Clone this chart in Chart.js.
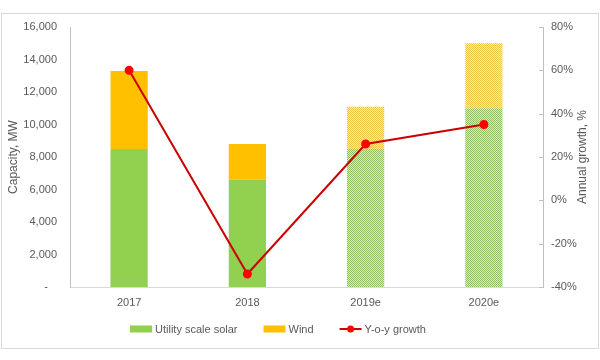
<!DOCTYPE html>
<html>
<head>
<meta charset="utf-8">
<script src="https://cdn.jsdelivr.net/npm/chart.js@4.4.1/dist/chart.umd.min.js"></script>
<style>
  html, body { margin: 0; padding: 0; background: #fff; }
  #wrap { width: 600px; height: 360px; }
</style>
</head>
<body>
<div id="wrap"><canvas id="chart" width="600" height="360"></canvas></div>
<script>
// ---- data ----
const categories = ['2017', '2018', '2019e', '2020e'];
const solarMW = [8500, 6600, 8500, 11000];
const windMW = [4800, 2200, 2600, 4000];
const growthPct = [60, -34, 26, 35];
const isForecast = [false, false, true, true];

const capacityTicks = [0, 2000, 4000, 6000, 8000, 10000, 12000, 14000, 16000];
const growthTicks = [-40, -20, 0, 20, 40, 60, 80];

const textColor = '#595959';
const fontFamily = "'Liberation Sans', Arial, sans-serif";

// checkered fill for the estimate years
function checker(dark, light) {
    const c = document.createElement('canvas');
    c.width = c.height = 2;
    const g = c.getContext('2d');
    g.fillStyle = light;
    g.fillRect(0, 0, 2, 2);
    g.fillStyle = dark;
    g.fillRect(0, 0, 1, 1);
    g.fillRect(1, 1, 1, 1);
    return g.createPattern(c, 'repeat');
}

const solarFill = isForecast.map(f => f ? checker('#8fbc62', '#dcebcb') : '#92D050');
const windFill = isForecast.map(f => f ? checker('#ecc545', '#fcedb2') : '#FFC000');

// frame, right axis title, inward tick marks and legend
const decorations = {
    id: 'decorations',
    beforeDraw(chart) {
        const ctx = chart.ctx;
        ctx.save();
        ctx.strokeStyle = '#d9d9d9';
        ctx.lineWidth = 1;
        ctx.strokeRect(1.5, 13.5, 597, 335);
        ctx.restore();
    },
    afterDraw(chart) {
        const ctx = chart.ctx;
        const area = chart.chartArea;
        const y1 = chart.scales.y1;
        ctx.save();

        // small tick marks pointing into the plot
        ctx.strokeStyle = '#bfbfbf';
        ctx.lineWidth = 1;
        growthTicks.forEach(v => {
            const y = Math.round(y1.getPixelForValue(v)) + 0.5;
            ctx.beginPath();
            ctx.moveTo(area.right - 4, y);
            ctx.lineTo(area.right, y);
            ctx.stroke();
        });

        // right axis title, reading bottom to top like Excel
        ctx.fillStyle = textColor;
        ctx.font = '12px ' + fontFamily;
        ctx.textAlign = 'center';
        ctx.textBaseline = 'middle';
        ctx.translate(583, (area.top + area.bottom) / 2);
        ctx.rotate(-Math.PI / 2);
        ctx.fillText('Annual growth, %', 0, 0);
        ctx.restore();

        // legend
        ctx.save();
        ctx.font = '11px ' + fontFamily;
        ctx.textBaseline = 'middle';
        ctx.fillStyle = textColor;
        const ds = chart.data.datasets;
        const items = [ds[1], ds[2], ds[0]];
        const boxW = 22, gap = 26, textOff = 3;
        let x = 130;
        const y = 329;
        items.forEach(d => {
            if (d.type === 'line') {
                ctx.strokeStyle = d.borderColor;
                ctx.lineWidth = 2;
                ctx.beginPath();
                ctx.moveTo(x, y);
                ctx.lineTo(x + boxW, y);
                ctx.stroke();
                ctx.fillStyle = d.pointBackgroundColor;
                ctx.beginPath();
                ctx.arc(x + boxW / 2, y, 3.5, 0, Math.PI * 2);
                ctx.fill();
            } else {
                ctx.fillStyle = d.legendColor;
                ctx.fillRect(x, y - 3.5, boxW, 7);
            }
            x += boxW + textOff;
            ctx.fillStyle = textColor;
            ctx.fillText(d.label, x, y + 0.5);
            x += ctx.measureText(d.label).width + gap;
        });
        ctx.restore();
    }
};

const ctx = document.getElementById('chart').getContext('2d');

new Chart(ctx, {
    type: 'bar',
    data: {
        labels: categories,
        datasets: [
            {
                type: 'line',
                label: 'Y-o-y growth',
                data: growthPct,
                yAxisID: 'y1',
                borderColor: '#CC0000',
                borderWidth: 2,
                pointBackgroundColor: '#FF0000',
                pointBorderColor: '#FF0000',
                pointRadius: 3.5,
                tension: 0,
                order: 0
            },
            {
                label: 'Utility scale solar',
                data: solarMW,
                backgroundColor: solarFill,
                legendColor: '#92D050',
                yAxisID: 'y',
                stack: 'cap',
                order: 1
            },
            {
                label: 'Wind',
                data: windMW,
                backgroundColor: windFill,
                legendColor: '#FFC000',
                yAxisID: 'y',
                stack: 'cap',
                order: 1
            }
        ]
    },
    options: {
        responsive: false,
        animation: false,
        barPercentage: 0.315,
        categoryPercentage: 1,
        layout: { padding: { top: 27, bottom: 0, left: 0, right: 0 } },
        plugins: {
            legend: { display: false },
            tooltip: { enabled: false }
        },
        scales: {
            x: {
                stacked: true,
                grid: { display: false, drawTicks: false },
                border: { display: true, color: '#d9d9d9' },
                ticks: {
                    color: textColor,
                    padding: 9,
                    font: { family: fontFamily, size: 11 }
                },
                afterFit: s => { s.height = 73; }
            },
            y: {
                stacked: true,
                position: 'left',
                min: 0,
                max: 16000,
                afterBuildTicks: s => { s.ticks = capacityTicks.map(v => ({ value: v })); },
                grid: { display: false, drawTicks: false },
                border: { display: true, color: '#bfbfbf' },
                ticks: {
                    color: textColor,
                    padding: 13,
                    font: { family: fontFamily, size: 11 },
                    callback: v => v === 0 ? '-   ' : v.toLocaleString('en-US')
                },
                title: {
                    display: true,
                    text: 'Capacity, MW',
                    color: textColor,
                    font: { family: fontFamily, size: 12 },
                    padding: { top: 6, bottom: 0 }
                },
                afterFit: s => { s.width = 70; }
            },
            y1: {
                position: 'right',
                min: -40,
                max: 80,
                afterBuildTicks: s => { s.ticks = growthTicks.map(v => ({ value: v })); },
                grid: { display: false, drawTicks: false },
                border: { display: true, color: '#bfbfbf' },
                ticks: {
                    color: textColor,
                    padding: 8,
                    font: { family: fontFamily, size: 11 },
                    callback: v => v + '%'
                },
                afterFit: s => { s.width = 57; }
            }
        }
    },
    plugins: [decorations]
});
</script>
</body>
</html>
